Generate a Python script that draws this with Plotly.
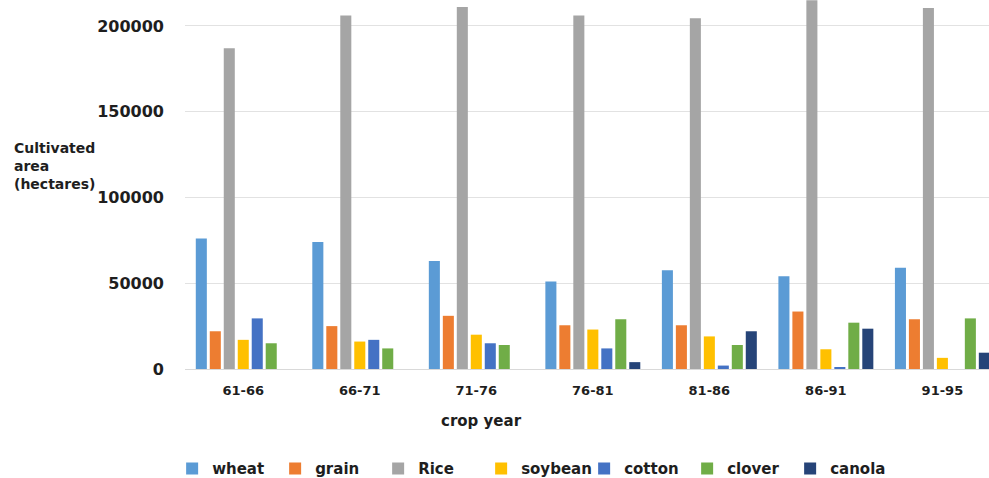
import plotly.graph_objects as go

# Crop years (x categories)
crop_years = ["61-66", "66-71", "71-76", "76-81", "81-86", "86-91", "91-95"]

# Cultivated area (hectares) per crop
wheat = [76000, 74000, 63000, 51000, 57500, 54000, 59000]
grain = [22000, 25000, 31000, 25500, 25500, 33500, 29000]
rice = [187000, 206000, 211000, 206000, 204500, 215000, 210500]
soybean = [17000, 16000, 20000, 23000, 19000, 11500, 6500]
cotton = [29500, 17000, 15000, 12000, 2000, 1000, 0]
clover = [15000, 12000, 14000, 29000, 14000, 27000, 29500]
canola = [0, 0, 0, 4000, 22000, 23500, 9500]

y_ticks = [0, 50000, 100000, 150000, 200000]

series = [
    ("wheat", wheat, "#5B9BD5"),
    ("grain", grain, "#ED7D31"),
    ("Rice", rice, "#A5A5A5"),
    ("soybean", soybean, "#FFC000"),
    ("cotton", cotton, "#4472C4"),
    ("clover", clover, "#70AD47"),
    ("canola", canola, "#264478"),
]

FONT = "DejaVu Sans"
TXT = "#1e1e1e"

fig = go.Figure()
for name, vals, color in series:
    fig.add_trace(go.Bar(name=name, x=crop_years, y=vals,
                         marker=dict(color=color, line=dict(width=0))))

fig.update_layout(
    width=989, height=478,
    margin=dict(l=185, r=0, t=0, b=109, autoexpand=False),
    paper_bgcolor="white", plot_bgcolor="white",
    barmode="group", bargap=0.16, bargroupgap=0.21,
    font=dict(family=FONT, color=TXT, weight="bold"),
    showlegend=True,
    legend=dict(orientation="h", x=-0.016, xanchor="left", y=-0.27, yanchor="middle",
                font=dict(family=FONT, size=15, color=TXT, weight="bold"),
                bgcolor="rgba(0,0,0,0)", itemwidth=30, traceorder="normal",
                entrywidth=58, entrywidthmode="pixels"),
    xaxis=dict(type="category", range=[-0.5, 6.40], showgrid=False,
               showline=False, zeroline=False, ticks="",
               tickfont=dict(family=FONT, size=13, color=TXT, weight="bold"),
               ticklabelstandoff=12),
    yaxis=dict(range=[0, 215100], tickvals=y_ticks,
               ticktext=[str(v) for v in y_ticks],
               showgrid=True, gridcolor="#e2e2e2", gridwidth=1,
               zeroline=True, zerolinecolor="#d9d9d9", zerolinewidth=1,
               showline=False, ticks="",
               tickfont=dict(family=FONT, size=16, color=TXT, weight="bold"),
               ticklabelstandoff=20),
    annotations=[
        dict(text="Cultivated<br>area<br>(hectares)", xref="paper", yref="paper",
             x=-0.215, y=0.55, xanchor="left", yanchor="middle", align="left",
             showarrow=False,
             font=dict(family=FONT, size=14, color=TXT, weight="bold")),
        dict(text="crop year", xref="paper", yref="paper",
             x=0.369, y=-0.142, xanchor="center", yanchor="middle",
             showarrow=False,
             font=dict(family=FONT, size=15, color=TXT, weight="bold")),
    ],
)

fig.write_html("out.html")
